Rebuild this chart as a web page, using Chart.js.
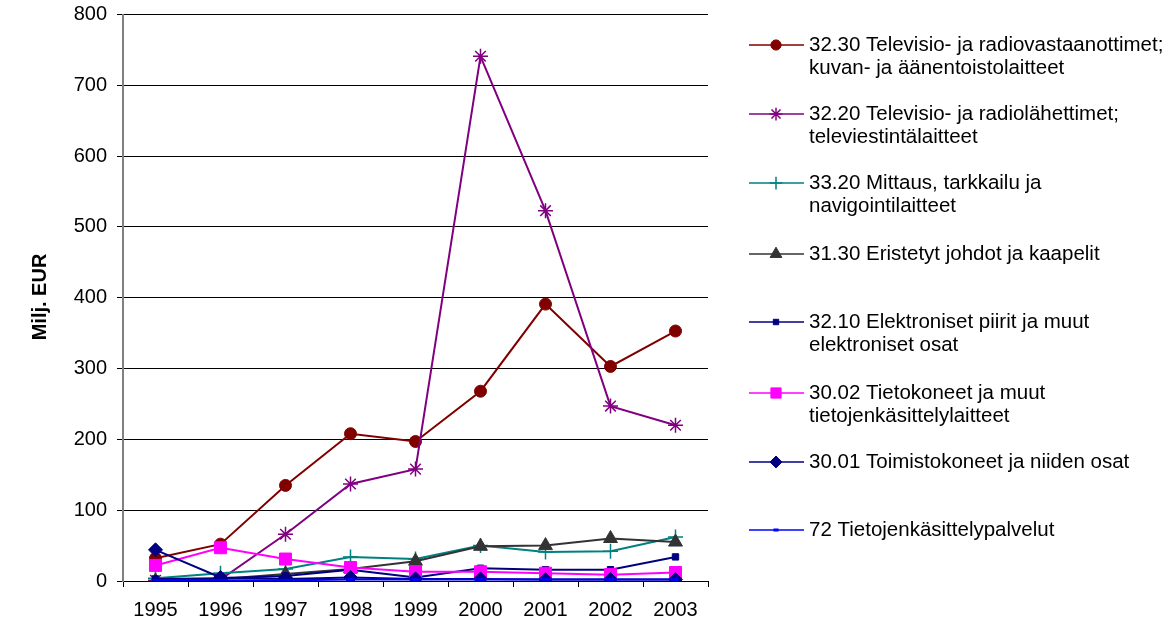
<!DOCTYPE html>
<html>
<head>
<meta charset="utf-8">
<script src="https://cdn.jsdelivr.net/npm/chart.js@4.4.1/dist/chart.umd.min.js"></script>
<style>
  html, body { margin: 0; padding: 0; background: #ffffff; }
  canvas { display: block; }
</style>
</head>
<body>
<canvas id="chart" width="1176" height="621"></canvas>
<script>
// Years on the category axis
const years = ['1995', '1996', '1997', '1998', '1999', '2000', '2001', '2002', '2003'];

// Values, millions of euros
const tvReceivers    = [32, 52, 135, 208, 197, 268, 391, 303, 353];   // 32.30
const tvTransmitters = [1, 2, 66, 137, 158, 741, 523, 247, 220];      // 32.20
const measuring      = [4, 11, 17, 34, 31, 50, 41, 42, 62];           // 33.20
const cables         = [0, 3, 10, 17, 28, 49, 50, 60, 55];            // 31.30
const circuits       = [3, 4, 7, 16, 5, 18, 16, 16, 34];              // 32.10
const computers      = [22, 47, 31, 19, 13, 13, 11, 9, 12];           // 30.02
const officeMachines = [44, 5, 3, 5, 3, 3, 2, 2, 2];                  // 30.01
const dataServices   = [1, 1, 1, 2, 2, 2, 2, 2, 2];                   // 72

// Legend text, one entry per series (wrapped lines)
const seriesLabels = [
  ['32.30 Televisio- ja radiovastaanottimet;', 'kuvan- ja äänentoistolaitteet'],
  ['32.20 Televisio- ja radiolähettimet;', 'televiestintälaitteet'],
  ['33.20 Mittaus, tarkkailu ja', 'navigointilaitteet'],
  ['31.30 Eristetyt johdot ja kaapelit'],
  ['32.10 Elektroniset piirit ja muut', 'elektroniset osat'],
  ['30.02 Tietokoneet ja muut', 'tietojenkäsittelylaitteet'],
  ['30.01 Toimistokoneet ja niiden osat'],
  ['72 Tietojenkäsittelypalvelut']
];

// Y axis ticks
const yMin = 0, yMax = 800, yStep = 100;
const yTitle = 'Milj. EUR';

const FONT = '"Liberation Sans", Arial, Helvetica, sans-serif';

const styles = [
  { color: '#800000', point: 'circle',   radius: 6,   pbw: 1 },
  { color: '#800080', point: 'star',     radius: 7.5, pbw: 1.5 },
  { color: '#008080', point: 'cross',    radius: 7.5, pbw: 1.5 },
  { color: '#333333', point: 'triangle', radius: 8,   pbw: 1 },
  { color: '#000080', point: 'rect',     radius: 4.5, pbw: 1 },
  { color: '#FF00FF', point: 'rect',     radius: 8.5, pbw: 1 },
  { color: '#000080', point: 'rectRot',  radius: 7,   pbw: 1 },
  { color: '#0000FF', point: 'line',     radius: 3,   pbw: 3 }
];
const values = [tvReceivers, tvTransmitters, measuring, cables, circuits, computers, officeMachines, dataServices];

const datasets = values.map((v, i) => ({
  label: seriesLabels[i].join(' '),
  data: v,
  borderColor: styles[i].color,
  backgroundColor: styles[i].color,
  borderWidth: 2,
  pointStyle: styles[i].point,
  pointRadius: styles[i].radius,
  pointHoverRadius: styles[i].radius,
  pointBackgroundColor: styles[i].color,
  pointBorderColor: styles[i].color,
  pointBorderWidth: styles[i].pbw,
  tension: 0,
  fill: false,
  order: values.length - i   // later series sit on top
}));

// Legend on the right side, drawn on the canvas
const sideLegend = {
  id: 'sideLegend',
  afterDraw(chart) {
    const ctx = chart.ctx;
    const rowY = [45, 114, 183, 254, 322, 393, 462, 530];
    const lineH = 23.5;
    ctx.save();
    chart.data.datasets.forEach((ds, i) => {
      const y = rowY[i];
      ctx.strokeStyle = ds.borderColor;
      ctx.lineWidth = 1.5;
      ctx.beginPath();
      ctx.moveTo(749, y);
      ctx.lineTo(804, y);
      ctx.stroke();
      ctx.fillStyle = ds.pointBackgroundColor;
      ctx.strokeStyle = ds.pointBorderColor;
      ctx.lineWidth = ds.pointBorderWidth;
      if (Chart.helpers && Chart.helpers.drawPoint) {
        Chart.helpers.drawPoint(ctx, {
          pointStyle: ds.pointStyle,
          radius: ds.pointRadius * 0.85,
          rotation: 0,
          borderWidth: ds.pointBorderWidth
        }, 776, y);
      }
      ctx.fillStyle = '#000000';
      ctx.font = '20.5px ' + FONT;
      ctx.textAlign = 'left';
      ctx.textBaseline = 'middle';
      seriesLabels[i].forEach((t, k) => ctx.fillText(t, 809, y + k * lineH));
    });
    // Y axis title
    ctx.translate(40, 297);
    ctx.rotate(-Math.PI / 2);
    ctx.font = 'bold 20px ' + FONT;
    ctx.textAlign = 'center';
    ctx.textBaseline = 'middle';
    ctx.fillStyle = '#000000';
    ctx.fillText(yTitle, 0, 0);
    ctx.restore();
  }
};

new Chart(document.getElementById('chart'), {
  type: 'line',
  data: { labels: years, datasets },
  plugins: [sideLegend],
  options: {
    responsive: false,
    animation: false,
    events: [],
    layout: { padding: { top: 14.5, right: 468, left: 0, bottom: 0 } },
    plugins: {
      legend: { display: false },
      tooltip: { enabled: false },
      title: { display: false }
    },
    scales: {
      x: {
        offset: true,
        grid: { display: true, drawOnChartArea: false, drawTicks: true, tickLength: 6, color: '#000000', offset: true },
        border: { color: '#000000', width: 1 },
        ticks: { color: '#000000', font: { size: 20, family: FONT }, padding: 11, maxRotation: 0, autoSkip: false },
        afterFit(s) { s.height = 40; s.paddingLeft = 0; s.paddingRight = 0; }
      },
      y: {
        min: yMin, max: yMax,
        ticks: { stepSize: yStep, color: '#000000', font: { size: 20, family: FONT }, padding: 10 },
        grid: { color: '#000000', lineWidth: 1, tickLength: 6, drawTicks: true },
        border: { color: '#808080', width: 2 },
        afterFit(s) { s.width = 123; s.paddingTop = 0; s.paddingBottom = 0; }
      }
    }
  }
});
</script>
</body>
</html>
